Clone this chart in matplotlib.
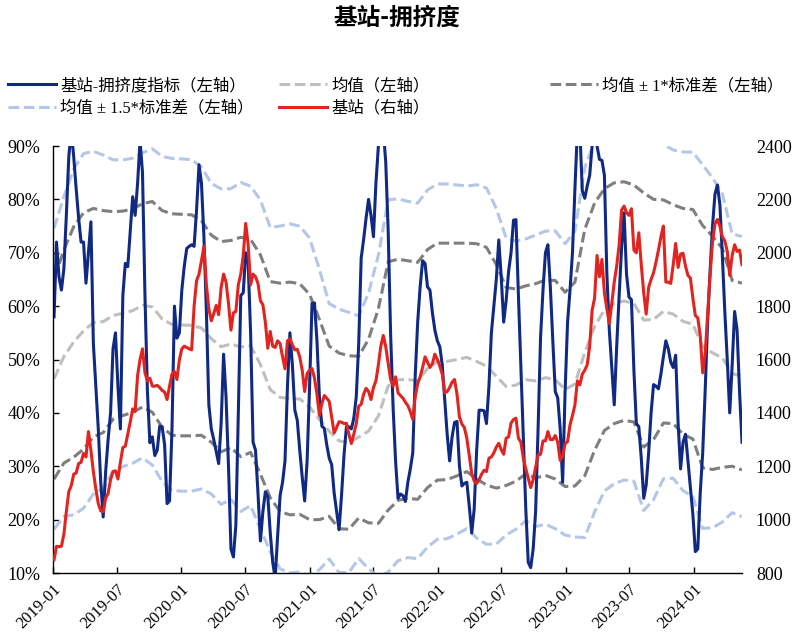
import numpy as np
import pandas as pd
import matplotlib
matplotlib.use("Agg")
import matplotlib.pyplot as plt
import matplotlib.dates as mdates
from matplotlib.ticker import PercentFormatter, MultipleLocator

plt.rcParams['font.family'] = ['Liberation Serif', 'Noto Sans CJK SC']

# 基站-拥挤度指标 (左轴, %), 周度
crowd = [58, 72, 65.5, 63, 67, 77, 88, 93, 88, 82,
         76.5, 72, 72, 64.3, 70, 75.8, 53, 45, 37, 27,
         20.5, 29, 35, 40, 52, 55, 45, 37, 62, 68,
         67.4, 74, 80.5, 77, 83, 91, 85, 62, 44, 34.4,
         35.5, 32, 33, 37.5, 37.4, 34, 23, 23.5, 37, 60,
         54, 55, 63, 67.5, 70.8, 71.2, 71.5, 71.2, 78, 86.5,
         83, 73, 59, 41.5, 37, 35, 32.8, 30.5, 38, 51,
         43, 30, 14.5, 13, 19, 40, 62, 62.5, 70, 68,
         55, 34.5, 33, 25, 16, 21.5, 25.2, 24.3, 17.5, 12,
         9, 17, 24.5, 27, 31, 45, 55, 49, 40.5, 38.6,
         33, 28, 23.5, 31, 45, 60.5, 60.6, 53.5, 43, 37.5,
         37.1, 34, 31.5, 30.3, 25, 21.5, 18.1, 24.5, 32, 37.4,
         37.4, 37, 39, 43, 53, 69, 72.5, 76.5, 80, 77,
         73, 83, 90, 95, 93, 87, 74, 54.5, 41, 31,
         24, 24.8, 24.5, 23.4, 27, 29.5, 32.5, 47, 57, 63.6,
         68.5, 68, 63.6, 63, 58.7, 55.5, 53.5, 52.4, 49, 42.5,
         36, 31, 35.5, 38.2, 38.4, 30, 26.3, 26.8, 27, 22.5,
         17.5, 22, 33, 40.5, 40.5, 40.4, 38, 45, 55, 60,
         65, 72.4, 65.5, 57, 61, 66.5, 70, 76.1, 76.2, 62,
         48.5, 35, 22, 12, 11, 14.5, 21.5, 37, 54, 63,
         70, 71.5, 63.5, 53.5, 44, 42.8, 37, 27, 44, 57,
         63, 70, 82, 93, 93, 81.6, 80.2, 82.5, 84.5, 90,
         95, 90, 87.5, 87.3, 84.5, 66, 55.5, 48.5, 41.5, 52.5,
         62, 71, 77.5, 66, 61.7, 61.2, 48, 38, 37.4, 31.5,
         24, 26.5, 32.5, 40, 45.3, 45, 44.5, 47.3, 50.5, 53.5,
         52, 49.5, 48.5, 50.8, 38, 29.5, 34.5, 36, 31, 26,
         21, 14, 14.5, 25, 32.5, 44, 57, 66.5, 75, 81,
         82.7, 79, 69.5, 59, 50, 40, 49, 59, 55.5, 44, 34.5]

# 基站 (右轴), 周度
station = [850, 900, 899, 900, 945, 1030, 1105, 1127, 1170, 1175,
           1210, 1215, 1248, 1235, 1330, 1260, 1180, 1115, 1060, 1033,
           1030, 1080, 1098, 1150, 1180, 1183, 1152, 1215, 1270, 1275,
           1320, 1365, 1415, 1405, 1540, 1600, 1640, 1550, 1520, 1530,
           1500, 1500, 1503, 1495, 1484, 1478, 1450, 1500, 1545, 1555,
           1525, 1598, 1640, 1650, 1645, 1640, 1636, 1800, 1895, 1920,
           1970, 2025, 1880, 1790, 1745, 1772, 1803, 1768, 1870, 1920,
           1890, 1810, 1710, 1775, 1780, 1880, 1920, 1990, 2110, 2030,
           1880, 1920, 1910, 1885, 1820, 1805, 1740, 1642, 1705, 1650,
           1645, 1670, 1660, 1610, 1565, 1670, 1678, 1655, 1636, 1638,
           1610, 1560, 1480, 1548, 1560, 1566, 1530, 1470, 1390, 1435,
           1465, 1455, 1443, 1385, 1325, 1345, 1367, 1365, 1360, 1361,
           1320, 1285, 1320, 1360, 1425, 1432, 1470, 1492, 1480, 1450,
           1495, 1520, 1580, 1650, 1690, 1648, 1585, 1525, 1500, 1535,
           1475, 1465, 1455, 1440, 1427, 1405, 1375, 1460, 1510, 1535,
           1570, 1610, 1590, 1570, 1585, 1620, 1600, 1575, 1545, 1475,
           1480, 1495, 1515, 1525, 1470, 1385, 1358, 1345, 1305, 1240,
           1172, 1145, 1135, 1150, 1170, 1185, 1180, 1230, 1235, 1250,
           1272, 1286, 1262, 1245, 1305, 1310, 1362, 1375, 1380, 1305,
           1290, 1230, 1190, 1155, 1120, 1150, 1195, 1242, 1245, 1295,
           1295, 1330, 1300, 1300, 1315, 1290, 1222, 1238, 1285, 1292,
           1355, 1390, 1430, 1520, 1505, 1545, 1560, 1580, 1650, 1785,
           1830, 1990, 1910, 1975, 1850, 1790, 1735, 1810, 1890, 1950,
           2030, 2160, 2175, 2150, 2140, 2165, 2010, 2000, 2075, 1955,
           1850, 1770, 1870, 1900, 1925, 1965, 2010, 2060, 2100, 1890,
           1890, 1885, 1955, 2035, 1945, 1995, 1998, 1950, 1915, 1905,
           1830, 1765, 1756, 1690, 1550, 1620, 1770, 1915, 2040, 2108,
           2125, 2100, 2060, 2045, 2005, 1915, 1990, 2030, 2005, 2010, 1955]

# 滚动均值与标准差 (左轴, %), 每4周一个点
roll_mean = [46.4, 50.55, 53.3, 55.35, 56.9, 57.1, 58.25, 58.65, 59.15, 60.15,
             59.85, 57.6, 56.55, 56.45, 56.4, 55.9, 53.9, 52.4, 52.9, 52.35,
             52.55, 49.05, 44.35, 42.9, 42.7, 42.6, 41.1, 38.75, 36.55, 34.75,
             34.45, 35.45, 36.6, 39.4, 45.05, 46.2, 46.25, 46.0, 48.3, 49.6,
             49.65, 50.0, 50.4, 49.65, 48.75, 46.85, 44.95, 45.2, 46.2, 46.0,
             46.6, 46.2, 44.4, 45.4, 51.3, 56.15, 59.35, 60.55, 60.95, 60.5,
             57.4, 57.5, 59.0, 58.5, 57.15, 56.6, 52.4, 51.25, 50.3, 47.4, 46.8]
roll_std = [18.8, 19.95, 21.6, 22.15, 21.4, 20.8, 19.45, 19.15, 19.05, 19.05,
            19.75, 20.3, 20.75, 20.75, 20.7, 20.1, 19.4, 19.7, 19.4, 20.55,
            19.95, 20.55, 20.25, 21.4, 21.8, 21.6, 21.1, 18.75, 15.95, 16.45,
            16.25, 15.15, 17.2, 20.1, 23.25, 22.6, 22.25, 22.2, 22.3, 22.2,
            22.15, 21.8, 21.4, 22.05, 22.25, 20.95, 18.55, 18.0, 17.6, 18.2,
            18.3, 18.6, 18.2, 19.1, 23.1, 23.15, 22.65, 22.55, 22.35, 22.2,
            23.8, 22.5, 20.9, 20.5, 21.15, 21.5, 22.7, 21.85, 20.5, 17.4, 17.5]

dates = pd.date_range("2019-01-04", periods=len(crowd), freq="7D")
band_dates = dates[::4]
m = np.array(roll_mean)
s = np.array(roll_std)

fig = plt.figure(figsize=(8.1, 6.43), dpi=100)
ax = fig.add_axes([53 / 810, 1 - 573 / 643, (742 - 53) / 810, (573 - 146) / 643])
ax2 = ax.twinx()

dash = (0, (3.5, 1.5))
lw = 2.2
h15, = ax.plot(band_dates, m + 1.5 * s, color="#B4C7E7", lw=lw, ls=dash)
ax.plot(band_dates, m - 1.5 * s, color="#B4C7E7", lw=lw, ls=dash)
h1, = ax.plot(band_dates, m + s, color="#7F7F7F", lw=lw, ls=dash)
ax.plot(band_dates, m - s, color="#7F7F7F", lw=lw, ls=dash)
hm, = ax.plot(band_dates, m, color="#BFBFBF", lw=lw, ls=dash)
hc, = ax.plot(dates, crowd, color="#102A84", lw=lw)
hs, = ax2.plot(dates, station, color="#E22421", lw=lw)

ax.set_ylim(10, 90)
ax2.set_ylim(800, 2400)
ax.set_xlim(pd.Timestamp("2019-01-01"), dates[-1])
ax.yaxis.set_major_locator(MultipleLocator(10))
ax.yaxis.set_major_formatter(PercentFormatter(decimals=0))
ax2.yaxis.set_major_locator(MultipleLocator(200))
ax.xaxis.set_major_locator(mdates.MonthLocator(bymonth=[1, 7]))
ax.xaxis.set_major_formatter(mdates.DateFormatter("%Y-%m"))

ax.tick_params(axis="y", direction="in", length=4, width=1, labelsize=13, pad=9)
ax.tick_params(axis="x", direction="in", length=4, width=1, labelsize=12, pad=6)
ax2.tick_params(axis="y", length=0, labelsize=13, pad=10)
for lab in ax.get_xticklabels():
    lab.set_rotation(45)
    lab.set_ha("right")
    lab.set_va("top")
    lab.set_rotation_mode("anchor")

for sp in ["top", "right"]:
    ax.spines[sp].set_visible(False)
for sp in ax2.spines.values():
    sp.set_visible(False)
ax.spines["left"].set_linewidth(1)
ax.spines["bottom"].set_linewidth(1)

# 图例: 三列分开放
leg_kw = dict(loc="upper left", frameon=False, fontsize=11.8, handlelength=2.9,
              handletextpad=0.3, labelspacing=0.4, borderpad=0, borderaxespad=0)
fig.legend([hc, h15], ["基站-拥挤度指标（左轴）", "均值 ± 1.5*标准差（左轴）"],
           bbox_to_anchor=(8 / 810, 1 - 78 / 643), **leg_kw)
fig.legend([hm, hs], ["均值（左轴）", "基站（右轴）"],
           bbox_to_anchor=(279 / 810, 1 - 78 / 643), **leg_kw)
fig.legend([h1], ["均值 ± 1*标准差（左轴）"],
           bbox_to_anchor=(550 / 810, 1 - 78 / 643), **leg_kw)

fig.text(397 / 810, 1 - 18 / 643, "基站-拥挤度", ha="center", va="center",
         fontsize=17, fontweight="bold", family=["Noto Sans CJK SC"])

fig.savefig("out.png", dpi=100)
